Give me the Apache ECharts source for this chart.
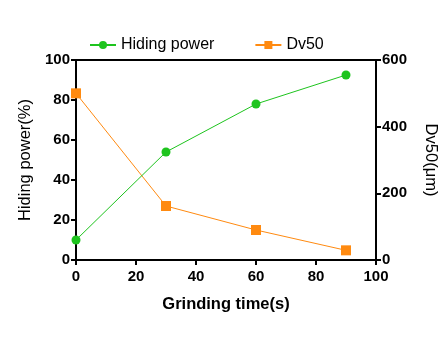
<!DOCTYPE html>
<html>
<head>
<meta charset="utf-8">
<script src="https://cdn.jsdelivr.net/npm/echarts@6/dist/echarts.min.js"></script>
<style>
  html, body { margin: 0; padding: 0; background: #fff; }
  #chart { width: 447px; height: 338px; }
</style>
</head>
<body>
<div id="chart"></div>
<script>
// Grinding time (s) on the x axis
const grindingTime = [0, 30, 60, 90];
// Hiding power (%) — left axis
const hidingPower = [10, 54, 78, 92.5];
// Dv50 (μm) — right axis
const dv50 = [500, 162, 90, 29];

const xTicks = [0, 20, 40, 60, 80, 100];
const leftTicks = [0, 20, 40, 60, 80, 100];
const rightTicks = [0, 200, 400, 600];

const GREEN = '#1ec41e';
const ORANGE = '#ff8a10';
const FONT = 'Liberation Sans, Arial, sans-serif';

const axisLine = { show: true, onZero: false, lineStyle: { color: '#000', width: 2 } };
const axisTick = { show: true, inside: false, length: 5, lineStyle: { color: '#000', width: 2 } };
const tickLabel = { color: '#000', fontWeight: 'bold', fontSize: 15, fontFamily: FONT, margin: 6 };

const chart = echarts.init(document.getElementById('chart'), null, { renderer: 'canvas' });
chart.setOption({
  animation: false,
  backgroundColor: '#fff',
  legend: {
    top: 32,
    left: 84,
    itemGap: 40,
    itemWidth: 26,
    itemHeight: 10,
    textStyle: { color: '#000', fontSize: 16, fontFamily: FONT },
    data: ['Hiding power', 'Dv50']
  },
  grid: { left: 76, right: 71, top: 60, bottom: 78, containLabel: false },
  xAxis: [
    {
      type: 'value',
      min: xTicks[0], max: xTicks[xTicks.length - 1], interval: 20,
      axisLine, axisTick,
      axisLabel: Object.assign({}, tickLabel, { margin: 9 }),
      splitLine: { show: false },
      name: 'Grinding time(s)',
      nameLocation: 'middle',
      nameGap: 36,
      nameTextStyle: { color: '#000', fontWeight: 'bold', fontSize: 16.5, fontFamily: FONT }
    },
    {
      type: 'value', position: 'top',
      min: 0, max: 100,
      axisLine, axisTick: { show: false }, axisLabel: { show: false },
      splitLine: { show: false }
    }
  ],
  yAxis: [
    {
      type: 'value', position: 'left',
      min: leftTicks[0], max: leftTicks[leftTicks.length - 1], interval: 20,
      axisLine, axisTick,
      axisLabel: tickLabel,
      splitLine: { show: false },
      name: 'Hiding power(%)',
      nameLocation: 'middle',
      nameRotate: 90,
      nameGap: 41,
      nameTextStyle: { color: '#000', fontSize: 16.5, fontFamily: FONT }
    },
    {
      type: 'value', position: 'right',
      min: rightTicks[0], max: rightTicks[rightTicks.length - 1], interval: 200,
      axisLine, axisTick,
      axisLabel: tickLabel,
      splitLine: { show: false },
      name: 'Dv50(μm)',
      nameLocation: 'middle',
      nameRotate: -90,
      nameGap: 46,
      nameTextStyle: { color: '#000', fontSize: 16.5, fontFamily: FONT }
    }
  ],
  series: [
    {
      name: 'Hiding power',
      type: 'line',
      yAxisIndex: 0,
      data: grindingTime.map((t, i) => [t, hidingPower[i]]),
      symbol: 'circle',
      symbolSize: 9,
      itemStyle: { color: GREEN },
      lineStyle: { color: GREEN, width: 1 },
      z: 3
    },
    {
      name: 'Dv50',
      type: 'line',
      yAxisIndex: 1,
      data: grindingTime.map((t, i) => [t, dv50[i]]),
      symbol: 'rect',
      symbolSize: 10,
      itemStyle: { color: ORANGE },
      lineStyle: { color: ORANGE, width: 1 },
      z: 2
    }
  ]
});
</script>
</body>
</html>
